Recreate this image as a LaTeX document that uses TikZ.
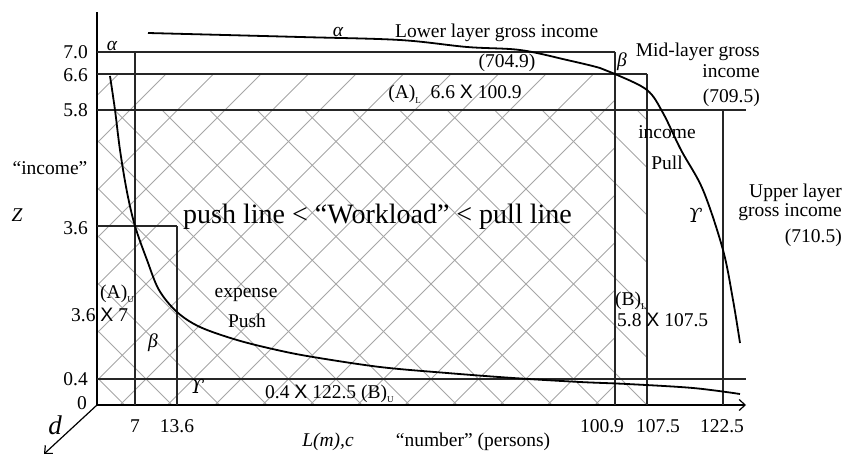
\documentclass[tikz,border=0pt]{standalone}
\usepackage{fontspec}
\setmainfont{Liberation Serif}
\newfontfamily\sansx{Liberation Sans}
\newfontfamily\upsfont{DejaVu Serif}
\usetikzlibrary{arrows.meta}

% sans-serif multiplication cross, small lowered subscript, hooked upsilon
\newcommand\mulX{{\sansx X}}
\newcommand\lowsub[1]{\raisebox{-0.45ex}{\fontsize{9}{9}\selectfont #1}}
\newcommand\hookups{{\upsfont\itshape ϒ}}

\tikzset{
  txt/.style={font=\fontsize{19.5}{22}\selectfont, inner sep=0pt},
  big/.style={font=\fontsize{28}{30}\selectfont, inner sep=0pt},
  frame/.style={line width=1.1pt, black!85},
  hatchline/.style={line width=0.8pt, black!35},
  curve/.style={line width=1.8pt, black},
  axis/.style={line width=1.2pt, black},
}

\begin{document}
\begin{tikzpicture}[x=1pt,y=-1pt]
\useasboundingbox (0,0) rectangle (850,454);

% hatching: rising lines over the (A)_L block, falling lines over the (B)_L block
\begin{scope}
  \clip (97,74) rectangle (615,405);
  \foreach \k in {-1,...,18}
    \draw[hatchline] ({192.5+47.5*\k},0) -- ({192.5+47.5*\k-500},500);
\end{scope}
\begin{scope}
  \clip (97,110) rectangle (647,405);
  \foreach \k in {-8,...,11}
    \draw[hatchline] ({52+47.5*\k},0) -- ({52+47.5*\k+500},500);
\end{scope}

% axes
\coordinate (O) at (97,405);
\coordinate (ytop) at (97,12);
\coordinate (xend) at (746,405);
\coordinate (dend) at (44,454);
\draw[axis] (O) -- (ytop);
\draw[axis,-{Straight Barb[length=6pt,width=11pt]}] (O) -- (xend);
\draw[axis,-{Straight Barb[length=6pt,width=11pt]}] (O) -- (dend);

% level lines and blocks
\coordinate (y70a) at (97,52);   \coordinate (y70b) at (615,52);
\coordinate (y66a) at (97,74);   \coordinate (y66b) at (647,74);
\coordinate (y58a) at (97,110);  \coordinate (y58b) at (746,110);
\coordinate (y36a) at (97,226);  \coordinate (y36b) at (177,226);
\coordinate (y04a) at (97,379);  \coordinate (y04b) at (746,379);
\draw[frame] (y70a) -- (y70b);
\draw[frame] (y66a) -- (y66b);
\draw[frame] (y58a) -- (y58b);
\draw[frame] (y36a) -- (y36b);
\draw[frame] (y04a) -- (y04b);

\coordinate (v7t) at (135,52);    \coordinate (v7b) at (135,405);
\coordinate (v136t) at (177,226); \coordinate (v136b) at (177,405);
\coordinate (v1009t) at (615,52); \coordinate (v1009b) at (615,405);
\coordinate (v1075t) at (647,74); \coordinate (v1075b) at (647,405);
\coordinate (v1225t) at (723,110);\coordinate (v1225b) at (723,405);
\draw[frame] (v7t) -- (v7b);
\draw[frame] (v136t) -- (v136b);
\draw[frame] (v1009t) -- (v1009b);
\draw[frame] (v1075t) -- (v1075b);
\draw[frame] (v1225t) -- (v1225b);

% push (expense) curve
\draw[curve] plot[smooth, tension=0.55] coordinates {
  (110,76) (115,110) (120,150) (127,192) (135,226) (147,260) (159,290)
  (177,312) (200,327) (237,340) (277,350) (313,357) (380,367) (447,373)
  (513,378) (580,382) (627,384) (693,388) (740,394)};

% pull (income) curve
\draw[curve] plot[smooth, tension=0.55] coordinates {
  (148,33) (300,37) (400,40) (467,47) (520,50) (567,60) (600,68)
  (615,74) (647,90) (663,113) (681,150) (703,190) (723,250) (733,300) (740,343)};

% axis values
\node[txt, anchor=east] (l70) at (88,52.5) {7.0};
\node[txt, anchor=east] (l66) at (88,75) {6.6};
\node[txt, anchor=east] (l58) at (88,110) {5.8};
\node[txt, anchor=east] (l36) at (88,228) {3.6};
\node[txt, anchor=east] (l04) at (88,379) {0.4};
\node[txt] (l0) at (82,403) {0};
\node[txt] (x7) at (135,426) {7};
\node[txt] (x136) at (177,426) {13.6};
\node[txt] (x1009) at (602,426) {100.9};
\node[txt] (x1075) at (658,426) {107.5};
\node[txt] (x1225) at (722,426) {122.5};

% axis names
\node[txt, anchor=base] (yname) at (50,175) {“income”};
\node[txt, anchor=base] (zname) at (17,222) {\itshape Z};
\node[txt, anchor=base] (lname) at (328,446) {\itshape L(m),c};
\node[txt, anchor=base] (xname) at (473,446) {“number” (persons)};
\node[font=\fontsize{27}{28}\selectfont\itshape, inner sep=0pt] (dname) at (55,425) {d};

% layer labels
\node[txt, anchor=base west] (lower) at (395,38) {Lower layer gross income};
\node[txt, anchor=base] (lowerv) at (507,68) {(704.9)};
\node[txt, anchor=base] (al) at (455,99) {(A)\lowsub{L}\ \ 6.6 \mulX\ 100.9};
\node[txt, anchor=base east] (mid1) at (760,57) {Mid-layer gross};
\node[txt, anchor=base east] (mid2) at (760,78) {income};
\node[txt, anchor=base east] (mid3) at (760,103) {(709.5)};
\node[txt, anchor=base east] (up1) at (842,197) {Upper layer};
\node[txt, anchor=base east] (up2) at (842,217) {gross income};
\node[txt, anchor=base east] (up3) at (842,242) {(710.5)};

% greek markers
\node[txt] (alpha1) at (338,32) {\itshape α};
\node[txt] (alpha2) at (112,46) {\itshape α};
\node[txt] (beta1) at (622,62) {\itshape β};
\node[txt] (beta2) at (153,343) {\itshape β};
\node[txt] (ups1) at (695,215) {\hookups};
\node[txt] (ups2) at (197,386) {\hookups};

% block labels
\node[big, anchor=base west] (title) at (183,223) {push line < “Workload” < pull line};
\node[txt, anchor=base west] (au) at (100,298) {(A)\lowsub{U}};
\node[txt, anchor=base west] (au2) at (71,321) {3.6 \mulX\ 7};
\node[txt, anchor=base] (exp) at (246,297) {expense};
\node[txt, anchor=base] (push) at (247,327) {Push};
\node[txt, anchor=base west] (bu) at (265,398) {0.4 \mulX\ 122.5 (B)\lowsub{U}};
\node[txt, anchor=base west] (bl) at (615,305) {(B)\lowsub{L}};
\node[txt, anchor=base west] (bl2) at (617,326) {5.8 \mulX\ 107.5};
\node[txt, anchor=base] (inc) at (667,139) {income};
\node[txt, anchor=base] (pull) at (667,170) {Pull};
\end{tikzpicture}
\end{document}
